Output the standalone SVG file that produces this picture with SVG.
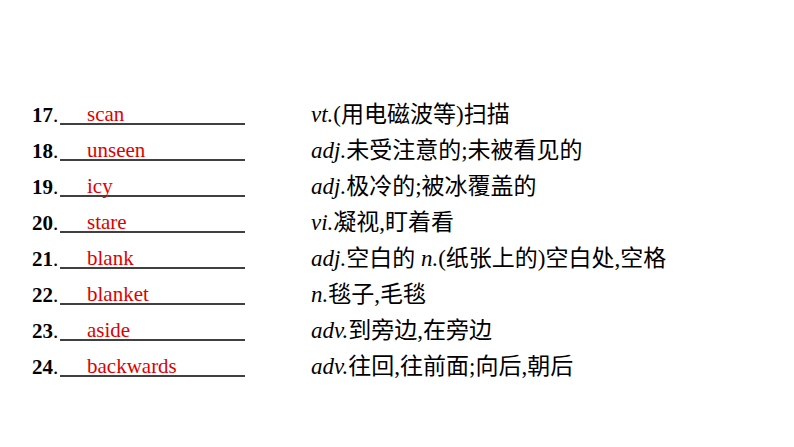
<svg xmlns="http://www.w3.org/2000/svg" width="794" height="447" viewBox="0 0 794 447">
<style>
text{font-family:"Liberation Serif","Noto Sans CJK SC",serif;font-size:21px;fill:#000}
.n{font-weight:bold}.a{fill:#e00000}.i{font-style:italic}
.d{font-size:23px}
.u{stroke:#000;stroke-width:1.3}
</style>
<rect width="794" height="447" fill="#fff"/>
<g id="rows">
<g id="r17"><text x="32" y="122"><tspan class="n">17</tspan>.</text><line class="u" x1="60" y1="124" x2="245" y2="124"/><text class="a" x="87" y="121">scan</text><text class="d" x="311" y="122"><tspan class="i">vt.</tspan>(用电磁波等)扫描</text></g>
<g id="r18"><text x="32" y="158"><tspan class="n">18</tspan>.</text><line class="u" x1="60" y1="160" x2="245" y2="160"/><text class="a" x="87" y="157">unseen</text><text class="d" x="311" y="158"><tspan class="i">adj.</tspan>未受注意的;未被看见的</text></g>
<g id="r19"><text x="32" y="194"><tspan class="n">19</tspan>.</text><line class="u" x1="60" y1="196" x2="245" y2="196"/><text class="a" x="87" y="193">icy</text><text class="d" x="311" y="194"><tspan class="i">adj.</tspan>极冷的;被冰覆盖的</text></g>
<g id="r20"><text x="32" y="230"><tspan class="n">20</tspan>.</text><line class="u" x1="60" y1="232" x2="245" y2="232"/><text class="a" x="87" y="229">stare</text><text class="d" x="311" y="230"><tspan class="i">vi.</tspan>凝视,盯着看</text></g>
<g id="r21"><text x="32" y="266"><tspan class="n">21</tspan>.</text><line class="u" x1="60" y1="268" x2="245" y2="268"/><text class="a" x="87" y="265">blank</text><text class="d" x="311" y="266"><tspan class="i">adj.</tspan>空白的 <tspan class="i">n.</tspan>(纸张上的)空白处,空格</text></g>
<g id="r22"><text x="32" y="302"><tspan class="n">22</tspan>.</text><line class="u" x1="60" y1="304" x2="245" y2="304"/><text class="a" x="87" y="301">blanket</text><text class="d" x="311" y="302"><tspan class="i">n.</tspan>毯子,毛毯</text></g>
<g id="r23"><text x="32" y="338"><tspan class="n">23</tspan>.</text><line class="u" x1="60" y1="340" x2="245" y2="340"/><text class="a" x="87" y="337">aside</text><text class="d" x="311" y="338"><tspan class="i">adv.</tspan>到旁边,在旁边</text></g>
<g id="r24"><text x="32" y="374"><tspan class="n">24</tspan>.</text><line class="u" x1="60" y1="376" x2="245" y2="376"/><text class="a" x="87" y="373">backwards</text><text class="d" x="311" y="374"><tspan class="i">adv.</tspan>往回,往前面;向后,朝后</text></g>
</g>
</svg>
